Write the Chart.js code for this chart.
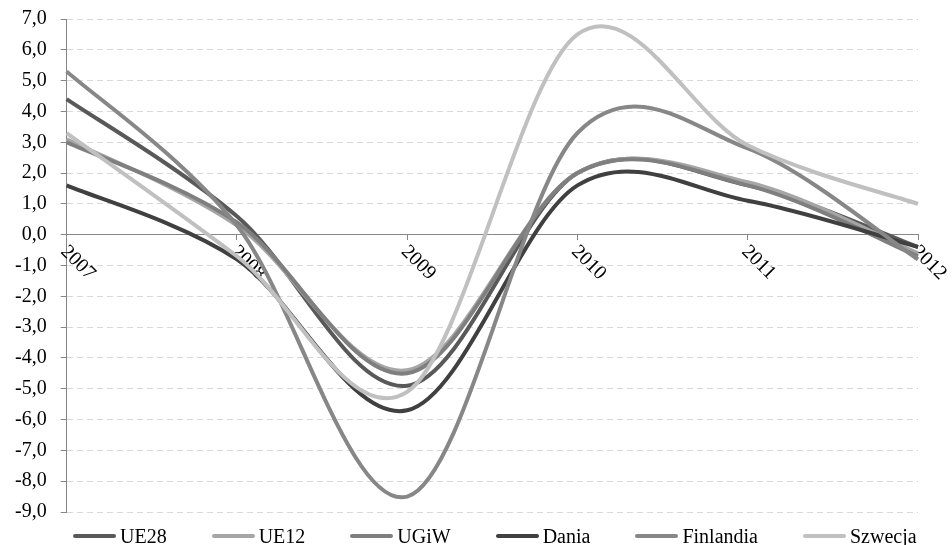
<!DOCTYPE html>
<html>
<head>
  <title>Dynamika PKB</title>
  <style>
      body {
          margin: 0;
          padding: 0;
          background: #ffffff;
      }
      .wrap {
          position: relative;
          width: 952px;
          height: 545px;
      }
      .legend {
          position: absolute;
          left: 73px;
          top: 526px;
          display: flex;
          gap: 45px;
          font-family: "Liberation Serif", "DejaVu Serif", serif;
          font-size: 20px;
          line-height: 20px;
          color: #000;
      }
      .legend span.item {
          display: flex;
          align-items: center;
      }
      .legend span.swatch {
          display: inline-block;
          width: 43px;
          height: 4px;
          border-radius: 2px;
          margin-right: 4px;
      }
  </style>
</head>
<body>
  <div class="wrap">
      <canvas id="chart"></canvas>
      <div class="legend" id="legend"></div>
  </div>
  <script src="https://cdn.jsdelivr.net/npm/chart.js"></script>
  <script>
      const years = ['2007', '2008', '2009', '2010', '2011', '2012'];
      const yTicks = [-9, -8, -7, -6, -5, -4, -3, -2, -1, 0, 1, 2, 3, 4, 5, 6, 7];

      const ue28 = [4.4, 0.6, -4.9, 2.0, 1.6, -0.4];
      const ue12 = [3.1, 0.3, -4.4, 2.0, 1.7, -0.6];
      const ugiw = [3.0, 0.4, -4.5, 2.0, 1.6, -0.7];
      const dania = [1.6, -0.8, -5.7, 1.6, 1.1, -0.4];
      const finlandia = [5.3, 0.3, -8.5, 3.3, 2.8, -0.8];
      const szwecja = [3.3, -0.7, -5.1, 6.5, 2.9, 1.0];

      const seriesNames = ['UE28', 'UE12', 'UGiW', 'Dania', 'Finlandia', 'Szwecja'];
      const seriesData = [ue28, ue12, ugiw, dania, finlandia, szwecja];
      const seriesColors = ['#595959', '#a6a6a6', '#7f7f7f', '#404040', '#878787', '#c0c0c0'];

      const serif = '"Liberation Serif", "DejaVu Serif", serif';

      // Excel style smoothing: even Catmull-Rom handles instead of distance weighted ones
      const excelSmooth = {
          id: 'excelSmooth',
          afterDatasetsUpdate(chart) {
              chart.getSortedVisibleDatasetMetas().forEach(meta => {
                  meta.dataset.updateControlPoints(chart.chartArea, meta.indexAxis);
                  const pts = meta.data;
                  pts.forEach((p, i) => {
                      const prev = pts[Math.max(i - 1, 0)];
                      const next = pts[Math.min(i + 1, pts.length - 1)];
                      const dx = (next.x - prev.x) / 6;
                      const dy = (next.y - prev.y) / 6;
                      p.cp1x = p.x - dx;
                      p.cp1y = p.y - dy;
                      p.cp2x = p.x + dx;
                      p.cp2y = p.y + dy;
                  });
              });
          }
      };

      // x labels are drawn by hand: Excel rotates them clockwise, starting at the tick
      const yearLabels = {
          id: 'yearLabels',
          beforeDatasetsDraw(chart) {
              const ctx = chart.ctx;
              const xs = chart.scales.x;
              const y0 = chart.scales.y.getPixelForValue(0);
              ctx.save();
              ctx.font = '20px ' + serif;
              ctx.fillStyle = '#000';
              ctx.textAlign = 'left';
              ctx.textBaseline = 'middle';
              years.forEach((label, i) => {
                  const x = xs.getPixelForValue(i);
                  ctx.save();
                  ctx.translate(x - 3, y0 + 14);
                  ctx.rotate(Math.PI / 4);
                  ctx.fillText(label, 0, 0);
                  ctx.restore();
              });
              ctx.restore();
          }
      };

      const datasets = seriesNames.map((name, i) => ({
          label: name,
          data: seriesData[i],
          borderColor: seriesColors[i],
          backgroundColor: seriesColors[i],
          borderWidth: 4,
          pointRadius: 0,
          tension: 0.4,
          fill: false,
          order: seriesNames.length - i
      }));

      const chart = new Chart(document.getElementById('chart'), {
          type: 'line',
          data: { labels: years, datasets: datasets },
          options: {
              responsive: true,
              maintainAspectRatio: false,
              animation: false,
              layout: {
                  padding: { left: 1, right: 34, top: 19, bottom: 33 }
              },
              plugins: {
                  legend: { display: false },
                  tooltip: { enabled: false }
              },
              scales: {
                  x: {
                      type: 'category',
                      offset: false,
                      position: { y: 0 },
                      grid: {
                          drawOnChartArea: false,
                          drawTicks: true,
                          tickLength: 5,
                          tickColor: '#868686'
                      },
                      border: { display: true, color: '#868686', width: 1 },
                      ticks: { display: false },
                      afterFit: (s) => { s.paddingLeft = 0; s.paddingRight = 0; s.paddingTop = 0; s.paddingBottom = 0; }
                  },
                  y: {
                      min: -9,
                      max: 7,
                      afterBuildTicks: (axis) => {
                          axis.ticks = yTicks.map(v => ({ value: v }));
                      },
                      afterFit: (s) => { s.paddingTop = 0; s.paddingBottom = 0; },
                      grid: {
                          color: '#d9d9d9',
                          lineWidth: 1,
                          tickLength: 6,
                          tickColor: '#868686',
                          borderDash: [6, 4]
                      },
                      border: { display: true, color: '#868686', width: 1, dash: [6, 4] },
                      ticks: {
                          color: '#000',
                          padding: 14,
                          font: { family: serif, size: 20 },
                          callback: (v) => Number(v).toFixed(1).replace('.', ',')
                      }
                  }
              }
          },
          plugins: [excelSmooth, yearLabels]
      });

      const legend = document.getElementById('legend');
      seriesNames.forEach((name, i) => {
          const item = document.createElement('span');
          item.className = 'item';
          const sw = document.createElement('span');
          sw.className = 'swatch';
          sw.style.background = seriesColors[i];
          item.appendChild(sw);
          item.appendChild(document.createTextNode(name));
          legend.appendChild(item);
      });
  </script>
</body>
</html>
